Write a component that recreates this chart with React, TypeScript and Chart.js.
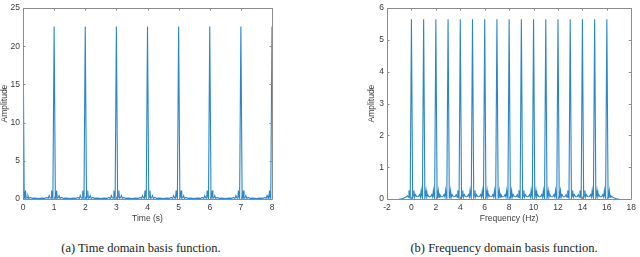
import React, { useEffect, useRef } from "react";
import { Chart, registerables } from "chart.js";

Chart.register(...registerables);

// ---------- Data ----------
// (a) time domain: spikes at every whole second
const timePeaks = [0, 1, 2, 3, 4, 5, 6, 7, 8];
const timePeakAmplitude = 22.6;
// half-period profile after each spike (offset in s, amplitude)
const timeLobeOffsets = [0, 0.04, 0.06, 0.08, 0.1, 0.13, 0.16, 0.19, 0.24, 0.3, 0.38, 0.5];
const timeLobeValues = [22.6, 0.1, 0.3, 1.1, 0.1, 0.15, 0.45, 0.08, 0.2, 0.08, 0.12, 0.05];
const timeTickValues = [0, 1, 2, 3, 4, 5, 6, 7, 8];
const timeAmpTicks = [0, 5, 10, 15, 20, 25];

// (b) frequency domain: spikes at every whole Hz from 0 to 16
const freqPeaks = [0, 1, 2, 3, 4, 5, 6, 7, 8, 9, 10, 11, 12, 13, 14, 15, 16];
const freqPeakAmplitude = 5.65;
const freqLobeOffsets = [0, 0.1, 0.15, 0.2, 0.26, 0.33, 0.42, 0.5];
const freqLobeValues = [5.65, 0.03, 0.1, 0.27, 0.06, 0.14, 0.08, 0.07];
const freqLeadX = [-1.0, -0.8, -0.6, -0.45, -0.33, -0.26, -0.2, -0.15, -0.1];
const freqLeadY = [0, 0.01, 0.03, 0.06, 0.1, 0.06, 0.27, 0.1, 0.03];
const freqTailX = [16.1, 16.15, 16.2, 16.26, 16.33, 16.45, 16.6, 16.8, 17.0];
const freqTailY = [0.03, 0.1, 0.27, 0.06, 0.1, 0.06, 0.03, 0.01, 0];
const freqTickValues = [-2, 0, 2, 4, 6, 8, 10, 12, 14, 16, 18];
const freqAmpTicks = [0, 1, 2, 3, 4, 5, 6];

type Pt = { x: number; y: number };

function buildSeries(
  peaks: number[],
  peakAmp: number,
  offsets: number[],
  values: number[],
  leadX: number[] = [],
  leadY: number[] = [],
  tailX: number[] = [],
  tailY: number[] = []
): Pt[] {
  const pts: Pt[] = [];
  leadX.forEach((x, i) => pts.push({ x, y: leadY[i] }));
  peaks.forEach((p, i) => {
    pts.push({ x: p, y: peakAmp });
    if (i < peaks.length - 1) {
      const next = peaks[i + 1];
      for (let j = 1; j < offsets.length; j++) pts.push({ x: p + offsets[j], y: values[j] });
      for (let j = offsets.length - 2; j >= 1; j--) pts.push({ x: next - offsets[j], y: values[j] });
    }
  });
  tailX.forEach((x, i) => pts.push({ x, y: tailY[i] }));
  return pts;
}

const AXIS_COLOR = "#8c8c8c";
const TEXT_COLOR = "#3a3a3a";
const LINE_COLOR = "#2a86cb";
const SANS = "'Liberation Sans', Arial, Helvetica, sans-serif";
const SERIF =
  "'Liberation Serif', 'DejaVu Serif', 'Noto Serif', 'Nimbus Roman', 'Nimbus Roman No9 L', FreeSerif, Tinos, Times, 'Times New Roman', serif";

const boxPlugin = {
  id: "matlabBox",
  afterDraw(chart: any) {
    const { ctx, chartArea: a, scales } = chart;
    const len = 2.5;
    ctx.save();
    ctx.strokeStyle = AXIS_COLOR;
    ctx.lineWidth = 1;
    ctx.beginPath();
    ctx.rect(Math.round(a.left) + 0.5, Math.round(a.top) + 0.5, Math.round(a.right - a.left), Math.round(a.bottom - a.top));
    const xs = scales.x;
    xs.ticks.forEach((t: any) => {
      const px = Math.round(xs.getPixelForValue(t.value)) + 0.5;
      ctx.moveTo(px, a.bottom);
      ctx.lineTo(px, a.bottom - len);
      ctx.moveTo(px, a.top);
      ctx.lineTo(px, a.top + len);
    });
    const ys = scales.y;
    ys.ticks.forEach((t: any) => {
      const py = Math.round(ys.getPixelForValue(t.value)) + 0.5;
      ctx.moveTo(a.left, py);
      ctx.lineTo(a.left + len, py);
      ctx.moveTo(a.right, py);
      ctx.lineTo(a.right - len, py);
    });
    ctx.stroke();
    ctx.restore();
  },
};

type PlotProps = {
  width: number;
  height: number;
  data: Pt[];
  xMin: number;
  xMax: number;
  xTicks: number[];
  yMin: number;
  yMax: number;
  yTicks: number[];
  xTitle: string;
  padLeft: number;
  padRight: number;
  padTop: number;
  yAxisWidth: number;
};

function Plot(p: PlotProps) {
  const ref = useRef<HTMLCanvasElement | null>(null);
  useEffect(() => {
    if (!ref.current) return;
    const tickFont = { family: SANS, size: 8.5 };
    const chart = new Chart(ref.current, {
      type: "line",
      data: {
        datasets: [
          {
            data: p.data,
            borderColor: LINE_COLOR,
            borderWidth: 1.1,
            pointRadius: 0,
            tension: 0,
            fill: false,
          },
        ],
      },
      options: {
        animation: false,
        responsive: false,
        maintainAspectRatio: false,
        events: [],
        layout: { padding: { left: p.padLeft, right: p.padRight, top: p.padTop, bottom: 0 } },
        plugins: { legend: { display: false }, tooltip: { enabled: false } },
        scales: {
          x: {
            type: "linear",
            min: p.xMin,
            max: p.xMax,
            afterBuildTicks: (s: any) => {
              s.ticks = p.xTicks.map((v) => ({ value: v }));
            },
            afterFit: (s: any) => {
              s.height = 30;
            },
            grid: { display: false, drawTicks: false },
            border: { display: false },
            ticks: { color: TEXT_COLOR, font: tickFont, padding: 4, maxRotation: 0, autoSkip: false },
            title: {
              display: true,
              text: p.xTitle,
              color: TEXT_COLOR,
              font: tickFont,
              padding: { top: 0, bottom: 5 },
            },
          },
          y: {
            type: "linear",
            min: p.yMin,
            max: p.yMax,
            afterBuildTicks: (s: any) => {
              s.ticks = p.yTicks.map((v) => ({ value: v }));
            },
            afterFit: (s: any) => {
              s.width = p.yAxisWidth;
            },
            grid: { display: false, drawTicks: false },
            border: { display: false },
            ticks: { color: TEXT_COLOR, font: tickFont, padding: 3, autoSkip: false },
            title: {
              display: true,
              text: "Amplitude",
              color: TEXT_COLOR,
              font: tickFont,
              padding: { top: 0, bottom: 0 },
            },
          },
        },
      },
      plugins: [boxPlugin],
    } as any);
    return () => chart.destroy();
  }, []);
  return <canvas ref={ref} width={p.width} height={p.height} style={{ width: p.width, height: p.height, display: "block" }} />;
}

const captionStyle: React.CSSProperties = {
  position: "absolute",
  top: 240,
  fontFamily: SERIF,
  fontSize: 12.5,
  color: "#222",
  whiteSpace: "nowrap",
  transform: "translateX(-50%)",
  lineHeight: "16px",
};

export default function App() {
  const timeData = buildSeries(timePeaks, timePeakAmplitude, timeLobeOffsets, timeLobeValues);
  const freqData = buildSeries(
    freqPeaks,
    freqPeakAmplitude,
    freqLobeOffsets,
    freqLobeValues,
    freqLeadX,
    freqLeadY,
    freqTailX,
    freqTailY
  );
  return (
    <div style={{ position: "fixed", left: 0, top: 0, width: 640, height: 257, background: "#fff", overflow: "hidden" }}>
      <div style={{ position: "absolute", left: 0, top: 0 }}>
        <Plot
          width={300}
          height={229}
          data={timeData}
          xMin={0}
          xMax={8}
          xTicks={timeTickValues}
          yMin={0}
          yMax={25}
          yTicks={timeAmpTicks}
          xTitle="Time (s)"
          padLeft={0}
          padRight={28}
          padTop={3}
          yAxisWidth={23}
        />
      </div>
      <div style={{ position: "absolute", left: 320, top: 0 }}>
        <Plot
          width={320}
          height={229}
          data={freqData}
          xMin={-2}
          xMax={18}
          xTicks={freqTickValues}
          yMin={0}
          yMax={6}
          yTicks={freqAmpTicks}
          xTitle="Frequency (Hz)"
          padLeft={47}
          padRight={7}
          padTop={2}
          yAxisWidth={20}
        />
      </div>
      <div style={{ ...captionStyle, left: 141 }}>(a) Time domain basis function.</div>
      <div style={{ ...captionStyle, left: 504 }}>(b) Frequency domain basis function.</div>
    </div>
  );
}
